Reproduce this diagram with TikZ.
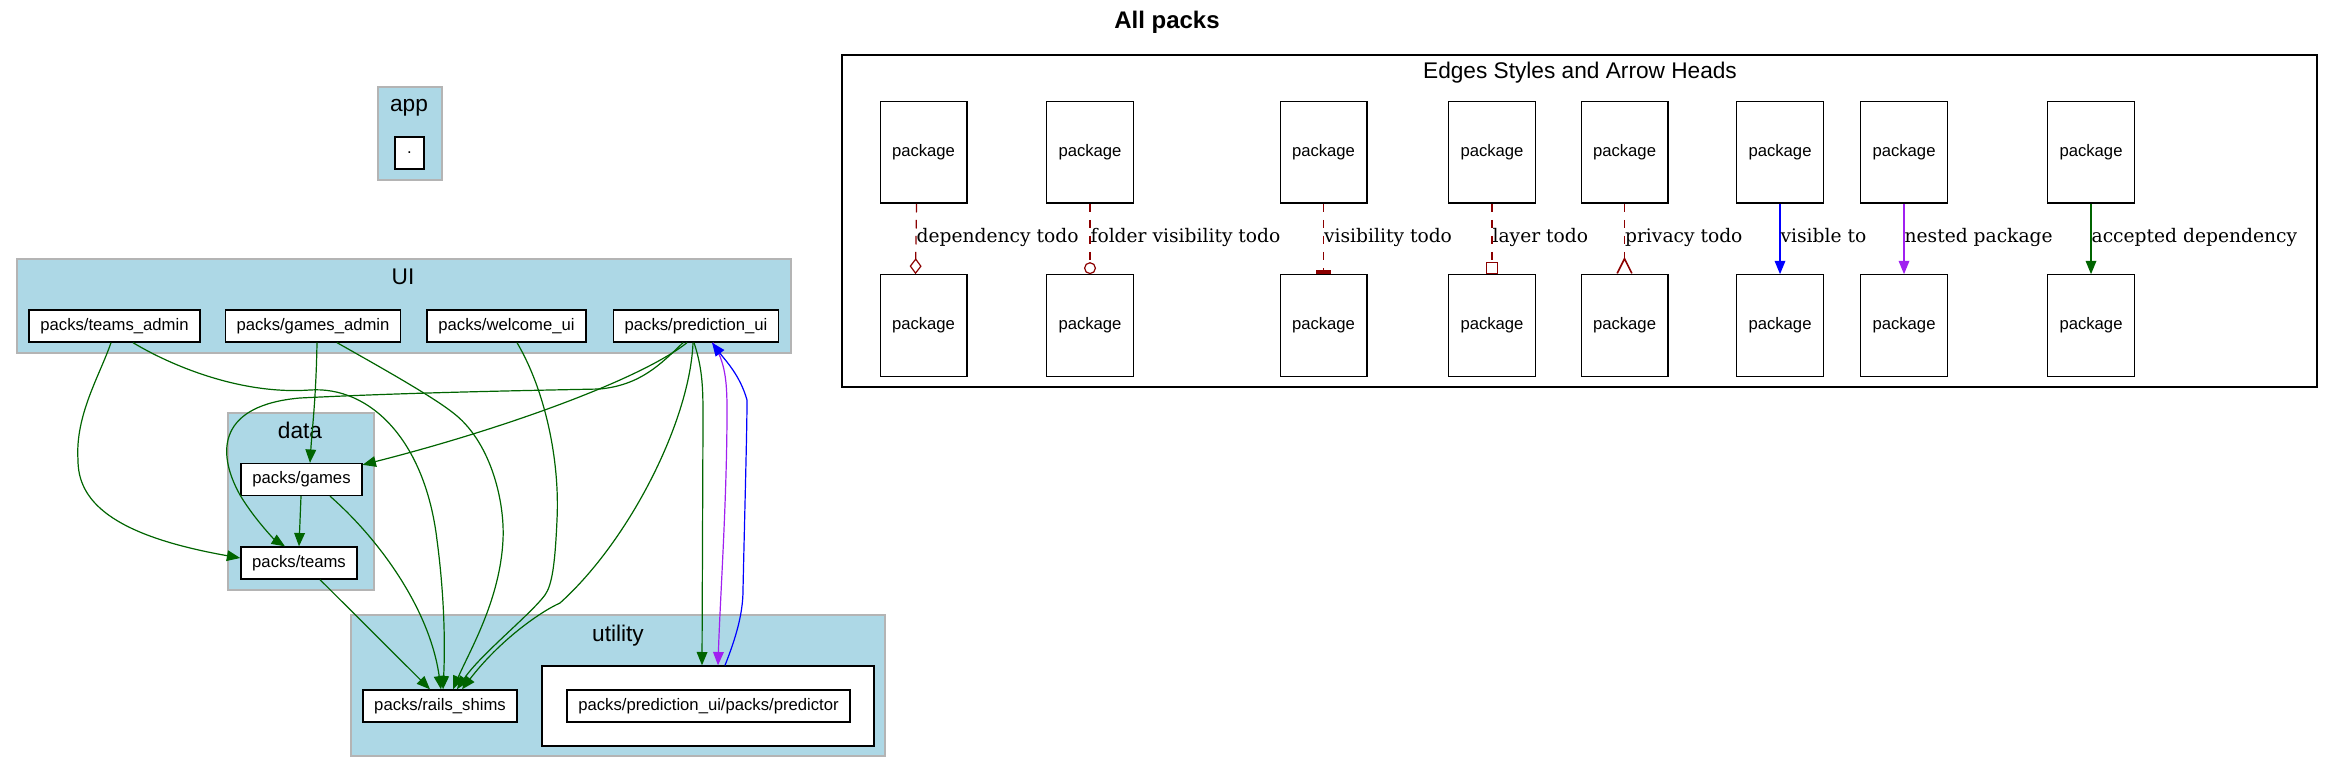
\documentclass[tikz,border=0pt]{standalone}
\usepackage{fontspec}
\setmainfont{Liberation Sans}
\newfontfamily\edgeserif{DejaVu Serif}
\usepackage{tikz}
\usetikzlibrary{arrows.meta,calc,fit}
\usepackage{xcolor}
\definecolor{gvgreen}{HTML}{006400}
\definecolor{gvred}{HTML}{8B0000}
\definecolor{gvblue}{HTML}{0000FF}
\definecolor{gvpurple}{HTML}{A020F0}
\definecolor{gvlightblue}{HTML}{ADD8E6}
\definecolor{gvframe}{HTML}{B4B4B4}

\begin{document}
\begin{tikzpicture}[x=0.75pt, y=-0.75pt,
  cluster/.style={draw=gvframe, fill=gvlightblue, line width=1pt, inner sep=0pt},
  pkg/.style={draw, fill=white, line width=1pt, inner xsep=8.5pt, inner ysep=0pt, minimum height=24pt, font=\fontsize{12.5}{15}\selectfont},
  legendpkg/.style={draw, line width=1pt, minimum width=65pt, minimum height=76pt, inner sep=0pt, font=\fontsize{12.5}{15}\selectfont},
  clusterlabel/.style={anchor=base, inner sep=0pt, font=\fontsize{17}{20}\selectfont},
  edgelabel/.style={anchor=base west, inner sep=0pt, yshift=-3pt, text=black, font=\edgeserif\fontsize{14}{17}\selectfont},
  gvtip/.style={-{Triangle[length=10pt,width=8pt]}},
  dep/.style={gvgreen, line width=0.9pt, gvtip},
  todo/.style={gvred, line width=0.9pt, dash pattern=on 6.5pt off 5.5pt},
  visible/.style={gvblue, line width=0.9pt, gvtip},
  nested/.style={gvpurple, line width=0.9pt, gvtip}]
  \useasboundingbox (0,0) rectangle (2333,773);
  % 标题
  \node[anchor=base, inner sep=0pt, font=\bfseries\fontsize{18}{22}\selectfont] (title) at (1167,29) {All packs};
  % 分组框
  \node[cluster, fit={(378,87) (442,180)}] (appbox) {};
  \node[cluster, fit={(17,259) (791,353)}] (uibox) {};
  \node[cluster, fit={(228,413) (374,590)}] (databox) {};
  \node[cluster, fit={(351,615) (885,756)}] (utilbox) {};
  \node[draw, fill=white, line width=1pt, inner sep=0pt, fit={(542,666) (874,746)}] (predbox) {};
  \node[draw, line width=1pt, inner sep=0pt, fit={(842,55) (2317,387)}] (legendbox) {};
  \node[clusterlabel] (applabel) at (409,112) {app};
  \node[clusterlabel] (uilabel) at (403,285) {UI};
  \node[clusterlabel] (datalabel) at (300,438) {data};
  \node[clusterlabel] (utillabel) at (618,641) {utility};
  \node[clusterlabel] (legendlabel) at (1580,79) {Edges Styles and Arrow Heads};
  % 包
  \node[pkg, minimum width=21.75pt, inner xsep=0pt] (root) at (409.5,153) {.};
  \node[pkg] (teamsadmin) at (114.5,326) {packs/teams\_admin};
  \node[pkg] (gamesadmin) at (313,326) {packs/games\_admin};
  \node[pkg] (welcomeui) at (506.5,326) {packs/welcome\_ui};
  \node[pkg] (predictionui) at (696,326) {packs/prediction\_ui};
  \node[pkg] (games) at (301.5,479.5) {packs/games};
  \node[pkg] (teams) at (299,563) {packs/teams};
  \node[pkg] (railsshims) at (440,706) {packs/rails\_shims};
  \node[pkg] (predictor) at (708.5,706) {packs/prediction\_ui/packs/predictor};
  % 依赖
  \draw[dep] ($(teamsadmin.south)+(-3.5,0)$) .. controls (100,375) and (75,415) .. (78,460) .. controls (78,500) and (110,535) .. ($(teams.west)+(0,-5)$);
  \draw[dep] ($(teamsadmin.south)+(18.5,0)$) .. controls (170,365) and (240,395) .. (310,390) .. controls (370,386) and (425,440) .. (437,540) .. controls (445,600) and (445,650) .. ($(railsshims.north)+(3,0)$);
  \draw[dep] ($(gamesadmin.south)+(4,0)$) .. controls (316,400) and (312,430) .. ($(games.north)+(8.5,0)$);
  \draw[dep] ($(gamesadmin.south)+(24,0)$) .. controls (380,367) and (430,395) .. (452,412) .. controls (490,440) and (505,500) .. (503,540) .. controls (500,600) and (470,650) .. ($(railsshims.north)+(13,0)$);
  \draw[dep] ($(welcomeui.south)+(10.5,0)$) .. controls (545,390) and (560,460) .. (557,520) .. controls (555,565) and (552,585) .. (545,595) .. controls (530,615) and (480,655) .. ($(railsshims.north)+(17,0)$);
  \draw[dep] ($(predictionui.south)+(-9,0)$) .. controls (640,380) and (500,430) .. ($(games.north east)+(0,2)$);
  \draw[dep] ($(predictionui.south)+(-13,0)$) .. controls (660,365) and (640,385) .. (600,389) .. controls (500,391) and (400,393) .. (300,398) .. controls (220,405) and (215,450) .. (240,495) .. controls (255,520) and (275,540) .. ($(teams.north)+(-14,0)$);
  \draw[dep] ($(predictionui.south)+(-3,0)$) .. controls (690,420) and (630,540) .. (560,603) .. controls (540,612) and (500,640) .. ($(railsshims.north)+(22,0)$);
  \draw[dep] ($(games.south)+(-0.5,0)$) -- (teams.north);
  \draw[dep] ($(games.south)+(28.5,0)$) .. controls (380,540) and (430,610) .. ($(railsshims.north)+(1,0)$);
  \draw[dep] ($(teams.south)+(21,0)$) -- ($(railsshims.north)+(-10,0)$);
  \draw[dep] ($(predictionui.south)+(-2,0)$) .. controls (703,370) and (703,390) .. (703,420) -- ($(predbox.north)+(-6,0)$);
  \draw[nested] ($(predictionui.south)+(17,0)$) .. controls (725,362) and (727,380) .. (727,410) .. controls (727,500) and (720,600) .. ($(predbox.north)+(10,0)$);
  \draw[visible] ($(predbox.north)+(17,0)$) .. controls (735,640) and (743,615) .. (743,590) .. controls (745,500) and (747,430) .. (747,400) .. controls (740,375) and (725,360) .. ($(predictionui.south)+(16,0)$);
  % 图例
  \foreach \i/\x in {1/923.5, 2/1090, 3/1323.5, 4/1492, 5/1624.5, 6/1780, 7/1904, 8/2091} {
    \node[legendpkg] (top\i) at (\x,152.5) {package};
    \node[legendpkg] (bot\i) at (\x,325.5) {package};
  }
  \draw[todo, -{Diamond[open,length=12pt,width=9pt]}] ($(top1.south)+(-7,0)$) -- node[edgelabel] {dependency todo} ($(bot1.north)+(-8,0)$);
  \draw[todo, -{Circle[open,length=9pt]}] (top2) -- node[edgelabel] {folder visibility todo} (bot2);
  \draw[todo, -{Rectangle[length=3pt,width=11pt]}] (top3) -- node[edgelabel] {visibility todo} (bot3);
  \draw[todo, -{Square[open,length=9pt]}] (top4) -- node[edgelabel] {layer todo} (bot4);
  \draw[todo, -{Straight Barb[reversed,length=11pt,width=11pt,line width=1.2pt]}] (top5) -- node[edgelabel] {privacy todo} (bot5);
  \draw[visible] (top6) -- node[edgelabel] {visible to} (bot6);
  \draw[nested] (top7) -- node[edgelabel] {nested package} (bot7);
  \draw[dep] (top8) -- node[edgelabel] {accepted dependency} (bot8);
\end{tikzpicture}
\end{document}
